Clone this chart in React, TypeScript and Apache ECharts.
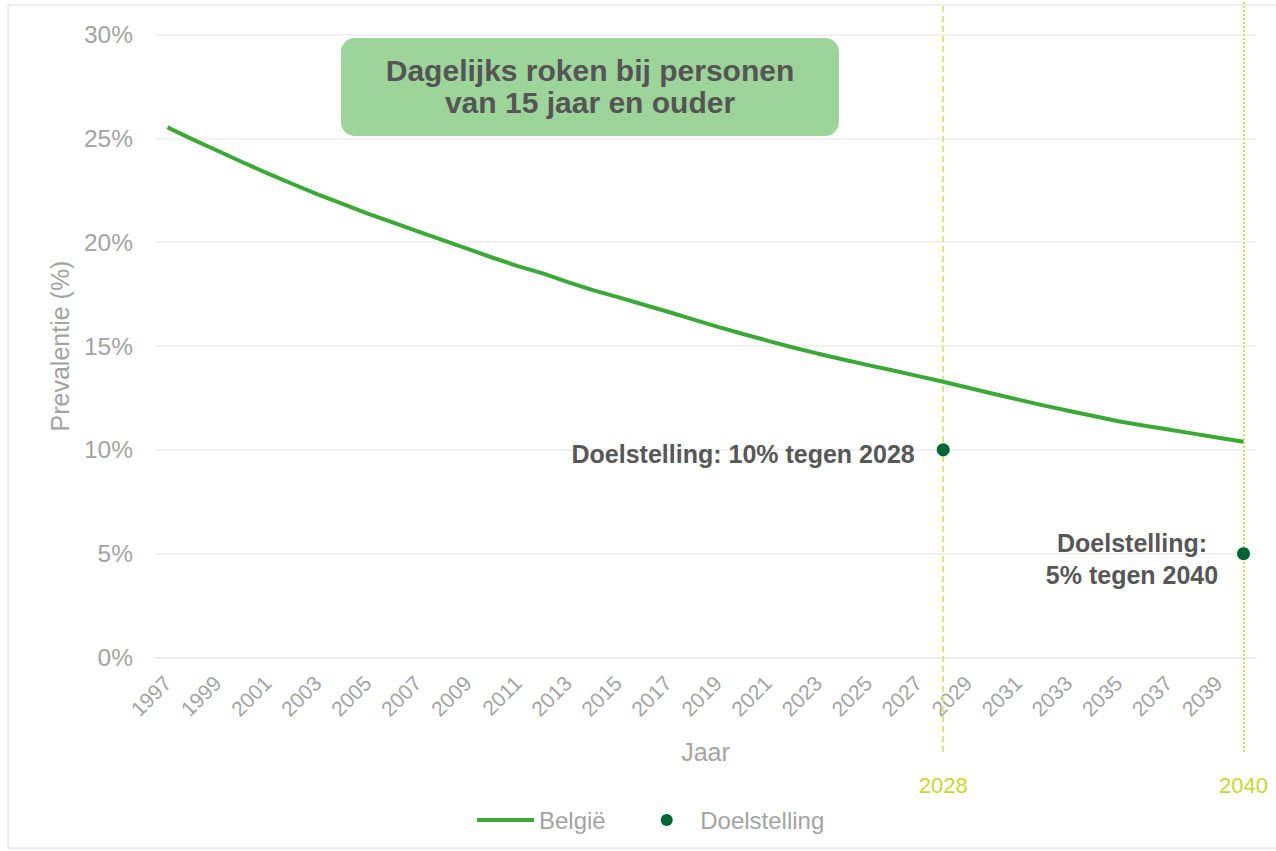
import React, { useEffect, useRef } from "react";
import * as echarts from "echarts";

const years = [
  "1997", "1998", "1999", "2000", "2001", "2002", "2003", "2004", "2005", "2006",
  "2007", "2008", "2009", "2010", "2011", "2012", "2013", "2014", "2015", "2016",
  "2017", "2018", "2019", "2020", "2021", "2022", "2023", "2024", "2025", "2026",
  "2027", "2028", "2029", "2030", "2031", "2032", "2033", "2034", "2035", "2036",
  "2037", "2038", "2039", "2040",
];

const belgie = [
  25.53, 24.95, 24.4, 23.85, 23.31, 22.8, 22.3, 21.84, 21.38, 20.95,
  20.52, 20.1, 19.68, 19.25, 18.85, 18.5, 18.08, 17.69, 17.35, 17.0,
  16.65, 16.28, 15.92, 15.58, 15.25, 14.93, 14.63, 14.35, 14.08, 13.82,
  13.55, 13.28, 12.99, 12.7, 12.42, 12.14, 11.88, 11.63, 11.38, 11.17,
  10.98, 10.78, 10.58, 10.39,
];

const goalYears = ["2028", "2040"];
const goalValues = [10, 5];
const goalLabels = ["Doelstelling: 10% tegen 2028", "Doelstelling:\n5% tegen 2040"];

const markerYears = ["2028", "2040"];

const yTicks = { min: 0, max: 30, interval: 5 };

const seriesNames = ["België", "Doelstelling"];
const titleText = "Dagelijks roken bij personen\nvan 15 jaar en ouder";
const yName = "Prevalentie (%)";
const xName = "Jaar";

const FONT = "'Liberation Sans', Arial, Helvetica, sans-serif";
const GRAY = "#a3a3a3";

export default function App() {
  const ref = useRef<HTMLDivElement>(null);

  useEffect(() => {
    if (!ref.current) return;
    const chart = echarts.init(ref.current, null, { renderer: "svg" });

    const goalData = goalYears.map((y, i) => ({
      value: [y, goalValues[i]],
      label:
        i === 0
          ? {
              show: true,
              formatter: goalLabels[i],
              position: "left",
              distance: 22,
              offset: [0, 4],
              fontSize: 25,
              fontWeight: "bold",
              color: "#575757",
              fontFamily: FONT,
            }
          : {
              show: true,
              formatter: goalLabels[i],
              position: "left",
              distance: 105,
              align: "center",
              offset: [0, 5],
              fontSize: 25,
              lineHeight: 32,
              fontWeight: "bold",
              color: "#575757",
              fontFamily: FONT,
            },
    }));

    const markerColors = ["#dce77c", "#d3e04a"];
    const markerDash: any[] = [[6, 4], [2, 2]];

    chart.setOption({
      animation: false,
      textStyle: { fontFamily: FONT },
      grid: [
        { left: 155, right: 20, top: 34.5, bottom: 193.5, outerBoundsMode: "none" },
        { left: 155, right: 20, top: 2, bottom: 99, outerBoundsMode: "none" },
      ],
      legend: {
        data: [
          { name: seriesNames[0], icon: "path://M0,0 L57,0 L57,4 L0,4 Z" },
          { name: seriesNames[1], icon: "circle" },
        ],
        left: 472,
        top: 803,
        itemWidth: 57,
        itemHeight: 12,
        itemGap: 55,
        textStyle: { fontSize: 24, color: GRAY, fontFamily: FONT },
      },
      graphic: [
        {
          type: "rect",
          shape: { x: 8, y: 5, width: 1300, height: 843 },
          style: { fill: "none", stroke: "#dcdcdc", lineWidth: 1 },
          silent: true,
          z: -10,
        },
        {
          type: "rect",
          shape: { x: 341, y: 38, width: 498, height: 98, r: 14 },
          style: { fill: "#9dd49a" },
          z: 10,
        },
        {
          type: "text",
          x: 590,
          y: 86,
          style: {
            text: titleText,
            fontSize: 30,
            fontWeight: "bold",
            lineHeight: 32,
            fill: "#555555",
            fontFamily: FONT,
            textAlign: "center",
            textVerticalAlign: "middle",
          },
          z: 11,
        },
      ],
      xAxis: [
        {
          type: "category",
          gridIndex: 0,
          data: years,
          boundaryGap: true,
          name: xName,
          nameLocation: "middle",
          nameGap: 82,
          nameTextStyle: { fontSize: 25, color: GRAY, fontFamily: FONT },
          axisLine: { show: true, lineStyle: { color: "#e8e8e8", width: 1.5 } },
          axisTick: { show: false },
          axisLabel: {
            interval: 1,
            rotate: 45,
            margin: 22,
            fontSize: 21,
            color: GRAY,
            fontFamily: FONT,
          },
          splitLine: { show: false },
        },
        {
          type: "category",
          gridIndex: 1,
          data: years,
          boundaryGap: true,
          show: false,
        },
      ],
      yAxis: [
        {
          type: "value",
          gridIndex: 0,
          min: yTicks.min,
          max: yTicks.max,
          interval: yTicks.interval,
          name: yName,
          nameLocation: "middle",
          nameGap: 83,
          nameTextStyle: { fontSize: 25, color: GRAY, fontFamily: FONT },
          axisLine: { show: false },
          axisTick: { show: false },
          axisLabel: {
            formatter: "{value}%",
            margin: 22,
            fontSize: 24.5,
            color: GRAY,
            fontFamily: FONT,
          },
          splitLine: { show: true, lineStyle: { color: "#ececec", width: 1.5 } },
        },
        { type: "value", gridIndex: 1, min: 0, max: 1, show: false },
      ],
      series: [
        {
          name: "markers",
          type: "line",
          xAxisIndex: 1,
          yAxisIndex: 1,
          data: [],
          z: 1,
          silent: true,
          markLine: {
            silent: true,
            z: 1,
            symbol: "none",
            data: markerYears.map((y, i) => ({
              name: y,
              xAxis: y,
              lineStyle: { color: markerColors[i], type: markerDash[i], width: 2 },
            })),
            label: {
              show: true,
              position: "start",
              formatter: "{b}",
              distance: 22,
              fontSize: 22,
              color: "#c8d730",
              fontFamily: FONT,
            },
          },
        },
        {
          name: seriesNames[0],
          type: "line",
          xAxisIndex: 0,
          yAxisIndex: 0,
          data: belgie,
          symbol: "none",
          smooth: false,
          z: 3,
          lineStyle: { color: "#3aa935", width: 4 },
          itemStyle: { color: "#3aa935" },
        },
        {
          name: seriesNames[1],
          type: "scatter",
          xAxisIndex: 0,
          yAxisIndex: 0,
          data: goalData,
          symbol: "circle",
          symbolSize: 13,
          z: 10,
          itemStyle: { color: "#006633", opacity: 1 },
        },
      ],
    });

    return () => chart.dispose();
  }, []);

  return (
    <div
      ref={ref}
      style={{ position: "fixed", left: 0, top: 0, width: 1276, height: 851, background: "#fff" }}
    />
  );
}
